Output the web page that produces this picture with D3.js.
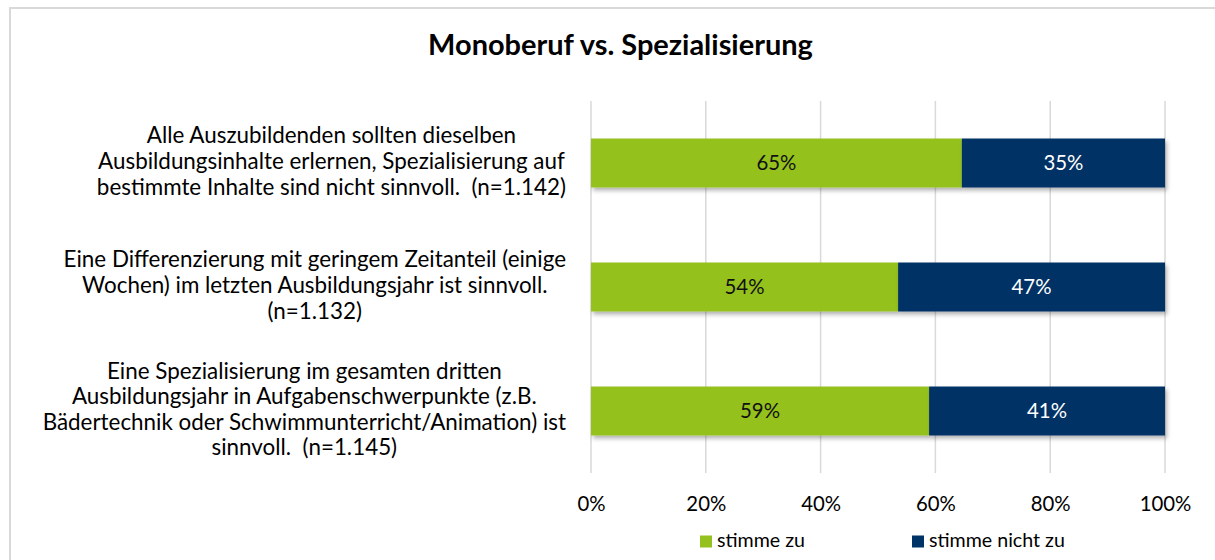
<!DOCTYPE html>
<html>
<head>
<meta charset="utf-8">
<script src="https://cdn.jsdelivr.net/npm/d3@7"></script>
<style>
  html, body { margin: 0; padding: 0; background: #fff; }
  svg { display: block; }
  text { font-family: Lato, "Open Sans", sans-serif; white-space: pre; }
</style>
</head>
<body>
<svg id="chart" width="1215" height="560"></svg>
<script>
// ---- data ----
const title = "Monoberuf vs. Spezialisierung";
const categories = [
  ["Alle Auszubildenden sollten dieselben",
   "Ausbildungsinhalte erlernen, Spezialisierung auf",
   "bestimmte Inhalte sind nicht sinnvoll.  (n=1.142)"],
  ["Eine Differenzierung mit geringem Zeitanteil (einige",
   "Wochen) im letzten Ausbildungsjahr ist sinnvoll.",
   "(n=1.132)"],
  ["Eine Spezialisierung im gesamten dritten",
   "Ausbildungsjahr in Aufgabenschwerpunkte (z.B.",
   "Bädertechnik oder Schwimmunterricht/Animation) ist",
   "sinnvoll.  (n=1.145)"]
];
const seriesNames = ["stimme zu", "stimme nicht zu"];
const stimmeZu = [64.6, 53.5, 58.9];
const stimmeNichtZu = [35.4, 46.5, 41.1];
const tickValues = [0, 20, 40, 60, 80, 100];
const colors = ["#95C11F", "#003366"];
const labelColors = ["#111111", "#ffffff"];

// ---- layout ----
const svg = d3.select("#chart");
const plot = { left: 591, right: 1165, top: 101, bottom: 473 };

function fit(sel, targetWidth, base) {
  sel.style("font-size", base + "px");
  const w = sel.node().getComputedTextLength();
  return base * targetWidth / w;
}

// frame
svg.append("rect").attr("x", 0).attr("y", 0).attr("width", 1215).attr("height", 560).attr("fill", "#fff");
svg.append("path")
  .attr("d", "M10,562 L10,8 L1217,8")
  .attr("fill", "none").attr("stroke", "#d9d9d9").attr("stroke-width", 2);

// shadow filter
const defs = svg.append("defs");
const f = defs.append("filter").attr("id", "shadow").attr("x", "-5%").attr("y", "-30%").attr("width", "110%").attr("height", "170%");
f.append("feDropShadow").attr("dx", 2).attr("dy", 3).attr("stdDeviation", 2)
  .attr("flood-color", "#000").attr("flood-opacity", 0.3);

const x = d3.scaleLinear().domain([0, 100]).range([plot.left, plot.right]);
const y = d3.scaleBand().domain(d3.range(categories.length))
  .range([plot.top, plot.bottom]).paddingInner(0.605).paddingOuter(0.3025);

// gridlines
svg.append("g").selectAll("line").data(tickValues).join("line")
  .attr("x1", d => x(d)).attr("x2", d => x(d))
  .attr("y1", plot.top).attr("y2", plot.bottom)
  .attr("stroke", "#d9d9d9").attr("stroke-width", 1.5);

// title
const t = svg.append("text").text(title).attr("font-weight", "bold")
  .attr("text-anchor", "middle").attr("x", 620.5).attr("y", 55).attr("fill", "#000");
t.style("font-size", fit(t, 385, 30) + "px");

// stacked bars
const stackData = categories.map((c, i) => ({ i, zu: stimmeZu[i], nicht: stimmeNichtZu[i] }));
const stacked = d3.stack().keys(["zu", "nicht"])(stackData);

const barsG = svg.append("g");
stacked.forEach((layer, k) => {
  barsG.append("g").attr("filter", "url(#shadow)")
    .selectAll("rect").data(layer).join("rect")
    .attr("x", d => x(d[0]))
    .attr("width", d => x(d[1]) - x(d[0]))
    .attr("y", d => y(d.data.i))
    .attr("height", y.bandwidth())
    .attr("fill", colors[k]);
});

// data labels
const probe = svg.append("text").text("65%");
const dataSize = fit(probe, 40, 20);
probe.remove();
stacked.forEach((layer, k) => {
  svg.append("g").selectAll("text").data(layer).join("text")
    .attr("x", d => (x(d[0]) + x(d[1])) / 2)
    .attr("y", d => y(d.data.i) + y.bandwidth() / 2)
    .attr("dy", "0.36em")
    .attr("text-anchor", "middle")
    .style("font-size", dataSize + "px")
    .attr("fill", labelColors[k])
    .text(d => Math.round(d[1] - d[0]) + "%");
});

// x axis tick labels
const p2 = svg.append("text").text("100%");
const tickSize = fit(p2, 51.7, 20);
p2.remove();
const xAxis = d3.axisBottom(x).tickValues(tickValues).tickFormat(d => d + "%").tickSize(0).tickPadding(0);
const axG = svg.append("g").attr("transform", `translate(0, ${plot.bottom})`).call(xAxis);
axG.select(".domain").remove();
axG.selectAll("text")
  .attr("y", 0).attr("dy", 0)
  .attr("transform", "translate(0,38)")
  .style("font-family", "Lato, 'Open Sans', sans-serif")
  .style("font-size", tickSize + "px")
  .attr("fill", "#000");

// category labels
const p3 = svg.append("text").text(categories[0][1]);
const catSize = fit(p3, 467, 20);
p3.remove();
const lineH = 25.6;
const rightEdge = 566;
const catG = svg.append("g");
categories.forEach((lines, i) => {
  const g = catG.append("g");
  const texts = g.selectAll("text").data(lines).join("text")
    .style("font-size", catSize + "px")
    .attr("fill", "#000")
    .text(d => d);
  let maxW = 0;
  texts.each(function () { maxW = Math.max(maxW, this.getComputedTextLength()); });
  const cx = rightEdge - maxW / 2;
  const cy = y(i) + y.bandwidth() / 2 - 2;
  texts.attr("text-anchor", "middle")
    .attr("x", cx)
    .attr("y", (d, j) => cy + (j - (lines.length - 1) / 2) * lineH)
    .attr("dy", "0.36em");
});

// legend
const p4 = svg.append("text").text(seriesNames[0]);
const legSize = fit(p4, 88, 20);
p4.remove();
const legendX = [700, 912];
const leg = svg.append("g");
seriesNames.forEach((name, k) => {
  leg.append("rect").attr("x", legendX[k]).attr("y", 535.5).attr("width", 12).attr("height", 12).attr("fill", colors[k]);
  leg.append("text").attr("x", legendX[k] + 17).attr("y", 547)
    .style("font-size", legSize + "px").attr("fill", "#000").text(name);
});
</script>
</body>
</html>
